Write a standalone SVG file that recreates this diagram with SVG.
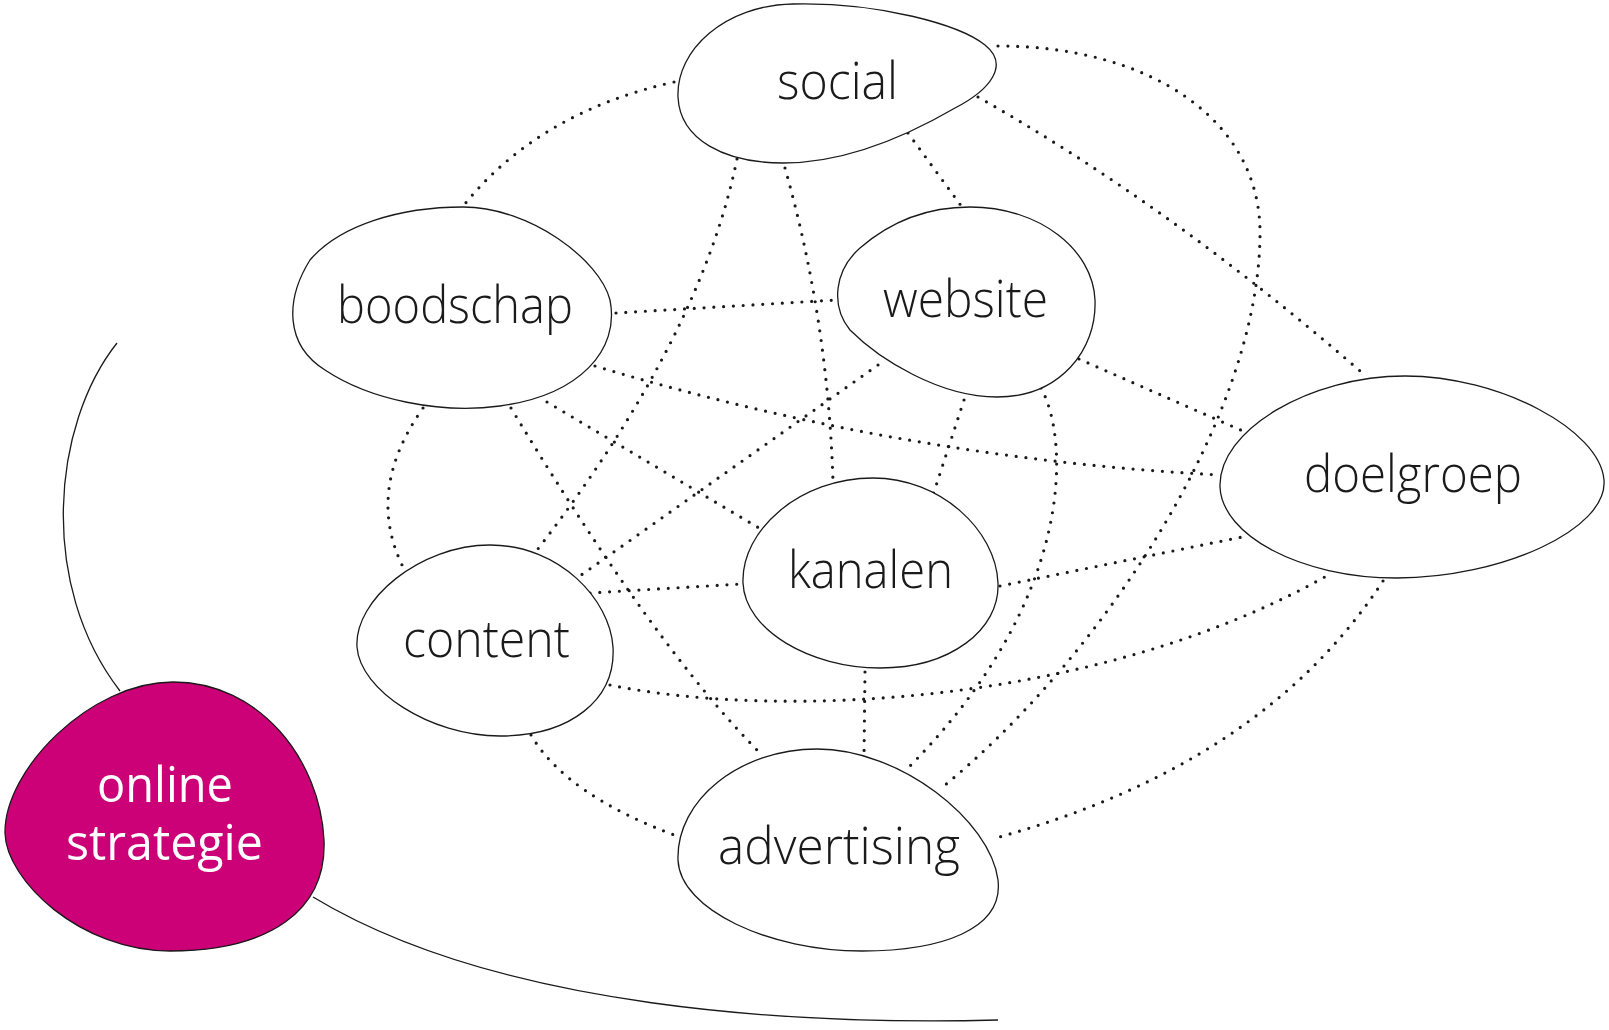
<svg xmlns="http://www.w3.org/2000/svg" width="1609" height="1030" viewBox="0 0 1609 1030">
<style>
.blob{fill:#fff;stroke:#1a1a1a;stroke-width:1.3}
.main{fill:#cc0077;stroke:#1a1a1a;stroke-width:1.3}
.lbl{font-family:"Open Sans","Lato","Noto Sans",sans-serif;font-weight:300;font-size:52px;fill:#1a1a1a;text-anchor:middle}
.mlbl{font-family:"Open Sans","Lato","Noto Sans",sans-serif;font-weight:400;font-size:50px;fill:#fff;text-anchor:middle}
.dot{fill:none;stroke:#1a1a1a;stroke-width:3.2;stroke-linecap:round;stroke-dasharray:0 9.8}
.arc{fill:none;stroke:#1a1a1a;stroke-width:1.3}
</style>
<rect width="1609" height="1030" fill="#fff"/>
<g id="connectors">
<path class="arc" d="M 117,343 C 52,425 38,585 120,691"/>
<path class="arc" d="M 313,897 C 500,1010 800,1025 998,1020"/>
<path class="dot" d="M 674,82 Q 539,112 464,205"/>
<path class="dot" d="M 737,159 Q 700,340 534,554"/>
<path class="dot" d="M 785,168 Q 828,320 833,482"/>
<path class="dot" d="M 908,133 L 962,207"/>
<path class="dot" d="M 978,97 Q 1172,207 1367,377"/>
<path class="dot" d="M 998,46 C 1150,46 1262,120 1260,236 C 1258,420 1100,660 939,790"/>
<path class="dot" d="M 616,313 L 836,300"/>
<path class="dot" d="M 595,366 Q 906,459 1221,475"/>
<path class="dot" d="M 547,402 L 759,528"/>
<path class="dot" d="M 511,408 Q 656,649 761,754"/>
<path class="dot" d="M 423,408 Q 365,490 403,567"/>
<path class="dot" d="M 878,365 L 577,578"/>
<path class="dot" d="M 964,400 L 933,495"/>
<path class="dot" d="M 1079,359 L 1252,435"/>
<path class="dot" d="M 1041,388 C 1070,440 1075,600 908,768"/>
<path class="dot" d="M 590,593 L 741,584"/>
<path class="dot" d="M 610,685 C 780,720 1100,705 1330,574"/>
<path class="dot" d="M 531,735 Q 566,795 677,836"/>
<path class="dot" d="M 1000,586 L 1247,536"/>
<path class="dot" d="M 865,672 L 864,757"/>
<path class="dot" d="M 1383,581 Q 1262,766 992,839"/>
</g>
<g id="social">
<path class="blob" d="M 793,4 C 880,2 960,25 985,45 C 1010,65 990,90 955,108 C 900,140 840,163 783,163 C 725,163 680,140 678,97 C 676,50 725,5 793,4 Z"/>
<text class="lbl" x="837.5" y="99" textLength="121" lengthAdjust="spacingAndGlyphs">social</text>
</g>
<g id="boodschap">
<path class="blob" d="M 463,207 C 530,207 600,260 610,300 C 620,350 580,395 500,406 C 440,414 370,400 325,370 C 285,345 285,300 310,260 C 340,225 400,207 463,207 Z"/>
<text class="lbl" x="455" y="323" textLength="236" lengthAdjust="spacingAndGlyphs">boodschap</text>
</g>
<g id="website">
<path class="blob" d="M 970,207 C 1040,207 1093,250 1095,300 C 1097,350 1060,397 997,397 C 940,397 880,360 850,330 C 830,305 835,270 860,248 C 890,222 925,207 970,207 Z"/>
<text class="lbl" x="965.5" y="317" textLength="165" lengthAdjust="spacingAndGlyphs">website</text>
</g>
<g id="doelgroep">
<path class="blob" d="M 1405,376 C 1500,376 1600,430 1604,480 C 1608,530 1500,578 1397,578 C 1300,578 1222,535 1220,487 C 1218,430 1310,376 1405,376 Z"/>
<text class="lbl" x="1413" y="492" textLength="218" lengthAdjust="spacingAndGlyphs">doelgroep</text>
</g>
<g id="kanalen">
<path class="blob" d="M 873,478 C 940,478 996,530 998,583 C 1000,630 950,668 880,668 C 810,668 745,630 743,583 C 741,530 800,478 873,478 Z"/>
<text class="lbl" x="870.5" y="588" textLength="165" lengthAdjust="spacingAndGlyphs">kanalen</text>
</g>
<g id="content">
<path class="blob" d="M 490,545 C 560,545 610,600 613,647 C 616,700 570,736 500,736 C 430,736 360,690 357,647 C 354,600 420,545 490,545 Z"/>
<text class="lbl" x="486.5" y="657" textLength="167" lengthAdjust="spacingAndGlyphs">content</text>
</g>
<g id="advertising">
<path class="blob" d="M 817,749 C 900,749 990,820 998,880 C 1004,930 940,951 862,951 C 770,951 680,910 678,860 C 676,800 740,749 817,749 Z"/>
<text class="lbl" x="839" y="864" textLength="242" lengthAdjust="spacingAndGlyphs">advertising</text>
</g>
<g id="online-strategie">
<path class="main" d="M 173,682 C 260,682 320,760 324,840 C 327,910 270,951 170,951 C 80,951 6,880 5,833 C 4,770 90,682 173,682 Z"/>
<text class="mlbl" x="165" y="802" textLength="136" lengthAdjust="spacingAndGlyphs">online</text>
<text class="mlbl" x="164.5" y="860" textLength="197" lengthAdjust="spacingAndGlyphs">strategie</text>
</g>
</svg>
